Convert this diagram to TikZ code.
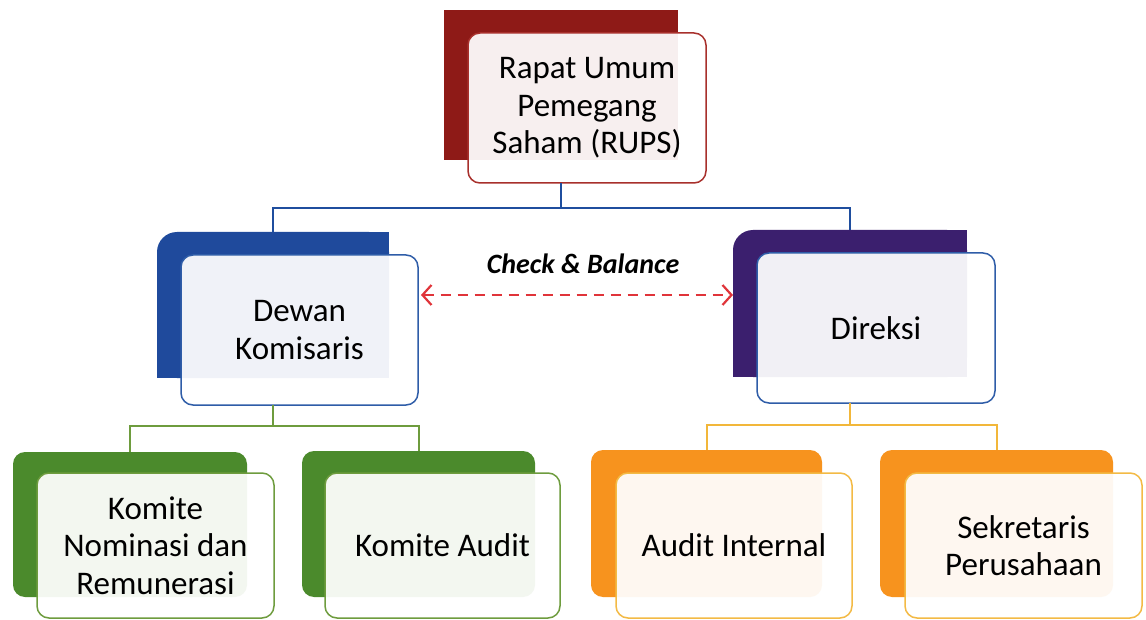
\documentclass[tikz,border=0pt]{standalone}
\usepackage{fontspec}
\setmainfont{Carlito}
\usetikzlibrary{arrows.meta}

\definecolor{rupsDark}{HTML}{8E1A17}
\definecolor{rupsEdge}{HTML}{A8302C}
\definecolor{komBlue}{HTML}{1F4A9C}
\definecolor{edgeBlue}{HTML}{2F5DA8}
\definecolor{dirPurple}{HTML}{3B1F6E}
\definecolor{komGreen}{HTML}{4B8A2C}
\definecolor{komEdge}{HTML}{6E9C3E}
\definecolor{unitOrange}{HTML}{F7931E}
\definecolor{unitEdge}{HTML}{F3BA45}
\definecolor{lineBlue}{HTML}{1F4E9E}
\definecolor{lineGreen}{HTML}{6E9C3E}
\definecolor{lineYellow}{HTML}{F2B73A}
\definecolor{cbRed}{HTML}{E0343A}

\begin{document}
\begin{tikzpicture}[x=1pt,y=-1pt,
  backbox/.style={anchor=north west, inner sep=0pt, outer sep=0pt},
  frontbox/.style={anchor=north west, inner sep=0pt, outer sep=0pt,
    rounded corners=12pt, line width=1.5pt, fill=white, fill opacity=0.935,
    text opacity=1, align=center, font=\fontsize{33}{37.5}\selectfont},
  bigbox/.style={frontbox, minimum width=237pt, minimum height=150pt},
  unitbox/.style={frontbox, minimum width=236pt, minimum height=145pt},
  link/.style={line width=2pt},
  cbarrow/.style={line width=2.4pt, cbRed, dash pattern=on 10pt off 7pt,
    {Straight Barb[length=9pt,width=20pt,line width=2.2pt]}-{Straight Barb[length=9pt,width=20pt,line width=2.2pt]}}
]
\useasboundingbox[fill=white] (0,0) rectangle (1146,620);

% ---- Rapat Umum Pemegang Saham ----
\node[backbox, fill=rupsDark, minimum width=234pt, minimum height=150pt] (rupsB) at (444,10) {};
\node[bigbox, draw=rupsEdge, minimum width=238pt] (rups) at (468,33) {Rapat Umum\\Pemegang\\Saham (RUPS)};

% ---- Dewan Komisaris ----
\node[backbox, minimum width=232pt, minimum height=146pt] (dewanB) at (157,232) {};
\fill[komBlue, rounded corners=20pt] (dewanB.north west) rectangle (dewanB.south east);
\fill[komBlue] ([xshift=20pt]dewanB.north west) rectangle (dewanB.south east);
\fill[komBlue] ([yshift=-20pt]dewanB.north west) rectangle (dewanB.south east);
\node[bigbox, draw=edgeBlue] (dewan) at (181,255) {Dewan\\Komisaris};

% ---- Direksi ----
\node[backbox, minimum width=234pt, minimum height=147pt] (direksiB) at (733,230) {};
\fill[dirPurple, rounded corners=20pt] (direksiB.north west) rectangle (direksiB.south east);
\fill[dirPurple] ([xshift=20pt]direksiB.north west) rectangle (direksiB.south east);
\fill[dirPurple] ([yshift=-20pt]direksiB.north west) rectangle (direksiB.south east);
\node[bigbox, draw=edgeBlue, minimum width=238pt] (direksi) at (757,253) {Direksi};

% ---- Committees under the board of commissioners ----
\node[backbox, fill=komGreen, rounded corners=12pt, minimum width=234pt, minimum height=145pt] (nomB) at (13,452) {};
\node[unitbox, draw=komEdge, minimum width=237pt] (nom) at (37,473) {Komite\\Nominasi dan\\Remunerasi};

\node[backbox, fill=komGreen, rounded corners=12pt, minimum width=233pt, minimum height=146pt] (auditB) at (302,451) {};
\node[unitbox, draw=komEdge, minimum width=235pt] (audit) at (325,473) {Komite Audit};

% ---- Units under the board of directors ----
\node[backbox, fill=unitOrange, rounded corners=12pt, minimum width=231pt, minimum height=147pt] (aiB) at (591,450) {};
\node[unitbox, draw=unitEdge] (ai) at (616,473) {Audit Internal};

\node[backbox, fill=unitOrange, rounded corners=12pt, minimum width=233pt, minimum height=147pt] (sekB) at (880,450) {};
\node[unitbox, draw=unitEdge, minimum width=237pt] (sek) at (905,473) {Sekretaris\\Perusahaan};

% ---- Connectors ----
\draw[link, lineBlue] (rupsB.south |- rups.south) -- ++(0,25) -| (dewanB.north);
\draw[link, lineBlue] (rupsB.south |- rups.south) -- ++(0,25) -| (direksiB.north);

\draw[link, lineGreen] (dewanB.south |- dewan.south) -- ++(0,21) -| (nomB.north);
\draw[link, lineGreen] (dewanB.south |- dewan.south) -- ++(0,21) -| (auditB.north);

\draw[link, lineYellow] (direksiB.south |- direksi.south) -- ++(0,22) -| (aiB.north);
\draw[link, lineYellow] (direksiB.south |- direksi.south) -- ++(0,22) -| (sekB.north);

% ---- Check & Balance ----
\node[font=\fontsize{28}{32}\selectfont\bfseries\itshape] (cb) at (583,264) {Check \& Balance};
\coordinate (cbL) at ([xshift=3pt,yshift=35pt]dewan.east);
\draw[cbarrow] (cbL) -- (cbL -| direksiB.west);
\end{tikzpicture}
\end{document}
